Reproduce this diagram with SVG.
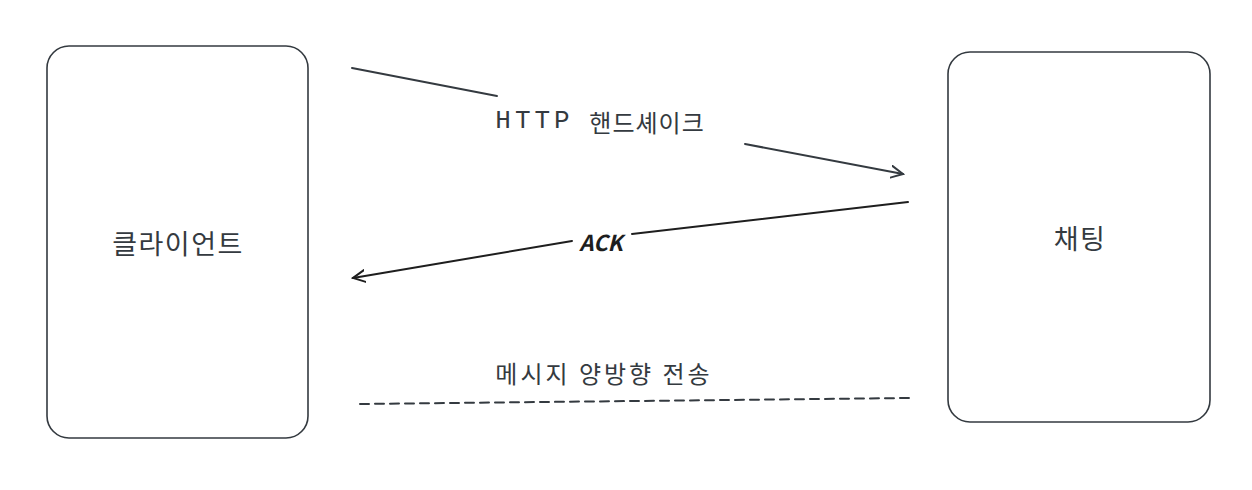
<svg xmlns="http://www.w3.org/2000/svg" width="1252" height="490" viewBox="0 0 1252 490">
<style>
.box{fill:#ffffff;stroke:#343a40;stroke-width:1.6}
.lbl{font-family:"Noto Sans CJK KR","Noto Sans",sans-serif;fill:#343a40;text-anchor:middle;dominant-baseline:central}
.edge{fill:none;stroke-width:2;stroke-linecap:round}
</style>
<defs>
<marker id="ah1" viewBox="-12 -8 14 16" refX="0" refY="0" markerWidth="14" markerHeight="16" markerUnits="userSpaceOnUse" orient="auto">
<path d="M-12,-6 L0,0 L-12,6" fill="none" stroke="#343a40" stroke-width="2" stroke-linecap="round"/>
</marker>
<marker id="ah2" viewBox="-12 -8 14 16" refX="0" refY="0" markerWidth="14" markerHeight="16" markerUnits="userSpaceOnUse" orient="auto">
<path d="M-12,-6 L0,0 L-12,6" fill="none" stroke="#1e1e1e" stroke-width="2" stroke-linecap="round"/>
</marker>
</defs>
<rect width="1252" height="490" fill="#ffffff"/>
<g id="client">
<rect class="box" x="47" y="46" width="261" height="392" rx="22"/>
<text class="lbl" x="178" y="242" font-size="27" letter-spacing="1.5">클라이언트</text>
</g>
<g id="chat">
<rect class="box" x="948" y="52" width="262" height="370" rx="22"/>
<text class="lbl" x="1080" y="237" font-size="27" letter-spacing="1.5">채팅</text>
</g>
<g id="connectors">
<path class="edge" stroke="#343a40" d="M352,68 L497,96"/>
<path class="edge" stroke="#343a40" d="M745,144 L903,174" marker-end="url(#ah1)"/>
<text class="lbl" x="600" y="121" font-size="24"><tspan font-family="'Liberation Mono','Noto Sans',monospace" font-size="26" letter-spacing="4">HTTP</tspan><tspan font-family="'Liberation Mono','Noto Sans',monospace" font-size="26"> </tspan><tspan letter-spacing="1">핸드셰이크</tspan></text>
<path class="edge" stroke="#1e1e1e" d="M908,202 L632,234"/>
<path class="edge" stroke="#1e1e1e" d="M572,241 L353,278" marker-end="url(#ah2)"/>
<text class="lbl" x="601" y="241" font-size="22" font-weight="bold" font-style="italic" style="fill:#1e1e1e" font-family="'Noto Sans',sans-serif">ACK</text>
<text class="lbl" x="604" y="372" font-size="24" letter-spacing="3">메시지 양방향 전송</text>
<path class="edge" stroke="#343a40" stroke-width="1.8" stroke-dasharray="9 6" stroke-linecap="butt" d="M360,404 L910,398"/>
</g>
</svg>
